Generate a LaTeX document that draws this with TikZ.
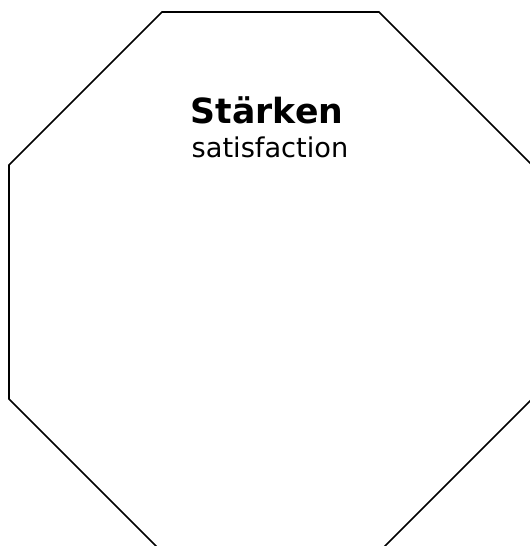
\documentclass[tikz,border=0pt]{standalone}
\usepackage{fontspec}
\setmainfont{DejaVu Sans}
\begin{document}
\begin{tikzpicture}[x=0.75pt,y=-0.75pt,
  octa/.style={draw=black,line width=1.3pt,line join=miter},
  titletext/.style={font=\bfseries\fontsize{26}{31}\selectfont,anchor=base},
  subtext/.style={font=\fontsize{20.4}{25}\selectfont,anchor=base}]
\useasboundingbox (0,0) rectangle (530,546);
\clip (0,0) rectangle (530,546);
\fill[white] (0,0) rectangle (530,546);
\draw[octa] (162,12) -- (379,12) -- (532,165) -- (532,399) -- (379,552) -- (162,552) -- (9,399) -- (9,165) -- cycle;
\node[titletext] (title) at (267,123) {Stärken};
\node[subtext] (sub) at (270,157) {satisfaction};
\end{tikzpicture}
\end{document}
